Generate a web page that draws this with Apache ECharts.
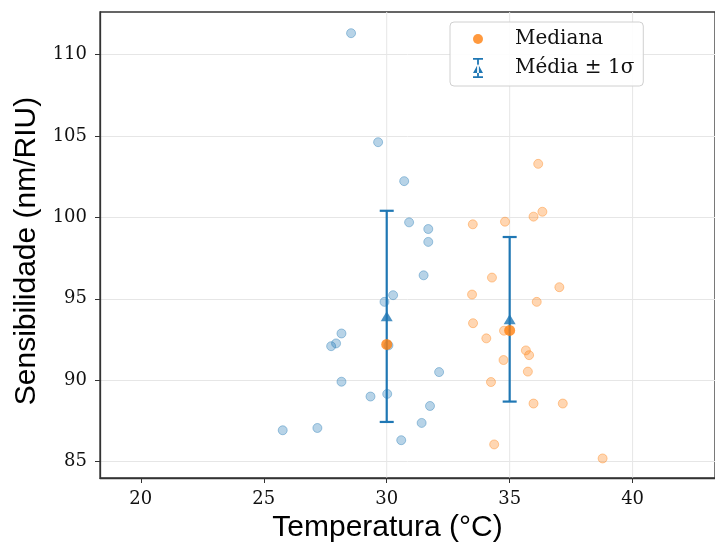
<!DOCTYPE html>
<html>
<head>
<meta charset="utf-8">
<script src="https://cdn.jsdelivr.net/npm/echarts@6/dist/echarts.min.js"></script>
<style>
  html, body { margin: 0; padding: 0; background: #ffffff; }
  #chart { width: 715px; height: 548px; }
</style>
</head>
<body>
<div id="chart"></div>
<script>
// ---- data ----
const xTicks = [20, 25, 30, 35, 40];
const yTicks = [85, 90, 95, 100, 105, 110];
const vGridValues = [30, 35, 40];

// individual measurements around 30 °C (blue)
const blueTemp = [28.55, 29.65, 30.71, 30.91, 31.69, 31.69, 31.50, 30.26, 29.91, 28.16, 27.94,
                  27.74, 28.16, 32.13, 29.34, 30.02, 31.76, 31.42, 25.77, 27.18, 30.59, 30.07];
const blueSens = [111.30, 104.61, 102.22, 99.69, 99.28, 98.49, 96.44, 95.22, 94.81, 92.87, 92.26,
                  92.09, 89.91, 90.50, 89.00, 89.16, 88.42, 87.38, 86.93, 87.07, 86.32, 92.14];

// individual measurements around 35 °C (orange)
const orangeTemp = [36.16, 36.33, 35.97, 34.81, 33.50, 34.28, 37.02, 33.47, 36.10, 33.51, 34.05,
                    35.66, 35.79, 34.75, 35.74, 34.24, 35.97, 37.16, 34.37, 38.78, 34.77];
const orangeSens = [103.28, 100.34, 100.04, 99.73, 99.57, 96.30, 95.71, 95.26, 94.81, 93.50, 92.57,
                    91.83, 91.54, 91.24, 90.53, 89.89, 88.57, 88.57, 86.06, 85.20, 93.04];

// group statistics
const groupTemps = [30, 35];
const medians = [92.20, 93.06];
const means = [93.92, 93.74];
const stds = [6.48, 5.05];

// ---- chart ----
const C0 = '#1f77b4';
const C1 = '#ff7f0e';
const chart = echarts.init(document.getElementById('chart'), null, { renderer: 'canvas' });

const bluePts = blueTemp.map((t, i) => [t, blueSens[i]]);
const orangePts = orangeTemp.map((t, i) => [t, orangeSens[i]]);
const medianPts = groupTemps.map((t, i) => [t, medians[i]]);
const meanPts = groupTemps.map((t, i) => [t, means[i]]);
const errPts = groupTemps.map((t, i) => [t, means[i] - stds[i], means[i] + stds[i]]);

const errIcon = 'path://M0,0 L10,0 L10,1.8 L5.9,1.8 L5.9,18.2 L10,18.2 L10,20 L0,20 L0,18.2 L4.1,18.2 L4.1,1.8 L0,1.8 Z M0,15 L10,15 L5,6 Z';

const tickFont = { fontFamily: 'DejaVu Serif', fontSize: 18, color: '#111' };

chart.setOption({
  animation: false,
  backgroundColor: '#ffffff',
  grid: {
    left: 100, top: 12, right: -2, bottom: 67,
    show: true, borderColor: '#333', borderWidth: 1.3, backgroundColor: 'transparent'
  },
  legend: {
    orient: 'vertical',
    left: 450, top: 22,
    padding: [7, 9, 8, 23],
    itemWidth: 10, itemHeight: 20, itemGap: 9,
    borderColor: '#d0d0d0', borderWidth: 1, borderRadius: 4,
    backgroundColor: 'rgba(255,255,255,0.9)',
    textStyle: { fontFamily: 'DejaVu Serif', fontSize: 20, color: '#111', padding: [0, 0, 0, 27] },
    data: [
      { name: 'Mediana', icon: 'circle' },
      { name: 'Média ± 1σ', icon: errIcon }
    ]
  },
  xAxis: {
    type: 'value',
    min: 18.34, max: 43.35,
    name: 'Temperatura (°C)',
    nameLocation: 'middle',
    nameGap: 35,
    nameTextStyle: { fontFamily: 'Liberation Sans', fontSize: 30, color: '#000', padding: [0, 40, 0, 0] },
    axisLine: { show: true, onZero: false, lineStyle: { color: '#333', width: 1.3 } },
    axisTick: { show: true, length: 5, customValues: xTicks, lineStyle: { color: '#333' } },
    axisLabel: Object.assign({ margin: 12, customValues: xTicks }, tickFont),
    splitLine: { show: false }
  },
  yAxis: {
    type: 'value',
    min: 84, max: 112.6,
    name: 'Sensibilidade (nm/RIU)',
    nameLocation: 'middle',
    nameGap: 52,
    nameTextStyle: { fontFamily: 'Liberation Sans', fontSize: 30, color: '#000', padding: [0, 12, 0, 0] },
    axisLine: { show: true, onZero: false, lineStyle: { color: '#333', width: 1.3 } },
    axisTick: { show: true, length: 5, customValues: yTicks, lineStyle: { color: '#333' } },
    axisLabel: Object.assign({ margin: 13, customValues: yTicks }, tickFont),
    splitLine: { show: true, lineStyle: { color: '#e6e6e6', width: 1 } }
  },
  series: [
    {
      name: 'grid-v', type: 'custom', silent: true, z: 0,
      data: vGridValues.map(v => [v]),
      encode: { x: 0 },
      renderItem: function (params, api) {
        const cs = params.coordSys;
        const p = api.coord([api.value(0), 100]);
        return {
          type: 'line', silent: true,
          shape: { x1: p[0], y1: cs.y, x2: p[0], y2: cs.y + cs.height },
          style: { stroke: '#e6e6e6', lineWidth: 1 }
        };
      }
    },
    {
      name: 'T30', type: 'scatter', data: bluePts, symbolSize: 9, z: 2,
      itemStyle: { color: 'rgba(31,119,180,0.4)', borderColor: 'rgba(31,119,180,0.48)', borderWidth: 1 }
    },
    {
      name: 'T35', type: 'scatter', data: orangePts, symbolSize: 9, z: 2,
      itemStyle: { color: 'rgba(255,127,14,0.4)', borderColor: 'rgba(255,127,14,0.48)', borderWidth: 1 }
    },
    {
      name: 'Média ± 1σ', type: 'custom', z: 3,
      data: errPts,
      encode: { x: 0, y: [1, 2] },
      renderItem: function (params, api) {
        const x = api.value(0);
        const lo = api.coord([x, api.value(1)]);
        const hi = api.coord([x, api.value(2)]);
        const hw = 7;
        const st = { stroke: C0, lineWidth: 2.2, fill: null };
        return {
          type: 'group',
          children: [
            { type: 'line', shape: { x1: lo[0], y1: lo[1], x2: hi[0], y2: hi[1] }, style: st },
            { type: 'line', shape: { x1: lo[0] - hw, y1: lo[1], x2: lo[0] + hw, y2: lo[1] }, style: st },
            { type: 'line', shape: { x1: hi[0] - hw, y1: hi[1], x2: hi[0] + hw, y2: hi[1] }, style: st }
          ]
        };
      },
      itemStyle: { color: C0 }
    },
    {
      name: 'Média ± 1σ', type: 'scatter', data: meanPts, symbol: 'triangle', symbolSize: [12, 10], z: 4,
      itemStyle: { color: C0 }
    },
    {
      name: 'Mediana', type: 'scatter', data: medianPts, symbol: 'circle', symbolSize: 11, z: 5,
      itemStyle: { color: C1 }
    }
  ]
});
</script>
</body>
</html>
